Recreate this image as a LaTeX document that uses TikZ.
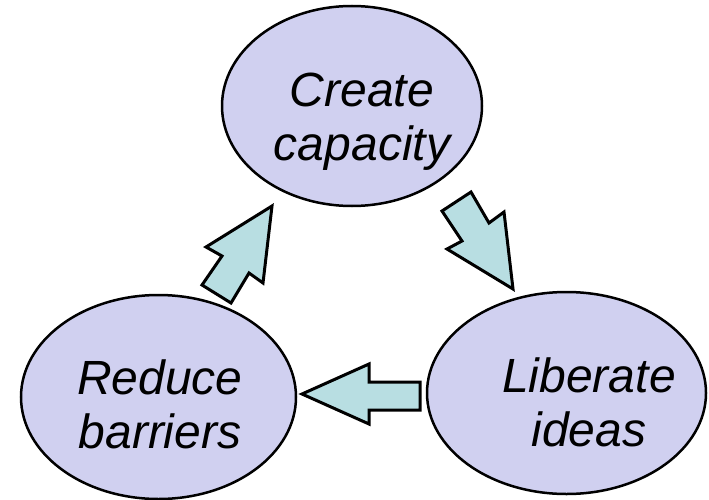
\documentclass[tikz,border=0pt]{standalone}
\usepackage{fontspec}
\setmainfont{Liberation Sans}
\usetikzlibrary{shapes.geometric}
\definecolor{bubblefill}{RGB}{208,208,240}
\definecolor{arrowfill}{RGB}{184,222,226}
\begin{document}
\begin{tikzpicture}[x=1pt,y=-1pt,
  bubble/.style={ellipse,draw=black,line width=2.5pt,fill=bubblefill,inner sep=0pt},
  lbl/.style={font=\fontsize{48}{54}\selectfont\itshape,align=center,inner sep=0pt,anchor=base},
  blockarrow/.style={draw=black,line width=3pt,fill=arrowfill,line join=miter}]
\useasboundingbox (0,0) rectangle (709,500);
\node[bubble,minimum width=260pt,minimum height=200pt] (create) at (352,106) {};
\node[bubble,minimum width=275pt,minimum height=204pt] (reduce) at (158.5,397) {};
\node[bubble,minimum width=279pt,minimum height=202pt] (liberate) at (566.5,393) {};
\node[lbl] (createtxt) at (362,160) {Create\\capacity};
\node[lbl] (reducetxt) at (160,448) {Reduce\\barriers};
\node[lbl] (liberatetxt) at (589,446) {Liberate\\ideas};
% block arrows
\draw[blockarrow] (442,211) -- (471,192) -- (489,223) -- (504,212) -- (513,289) -- (447,249) -- (462,241) -- cycle;
\draw[blockarrow] (272,206) -- (263,283) -- (249,273) -- (231,303) -- (202,285) -- (222,256) -- (206,247) -- cycle;
\draw[blockarrow] (302,394) -- (369,364) -- (369,382) -- (420,382) -- (420,410) -- (369,410) -- (369,424) -- cycle;
\end{tikzpicture}
\end{document}
